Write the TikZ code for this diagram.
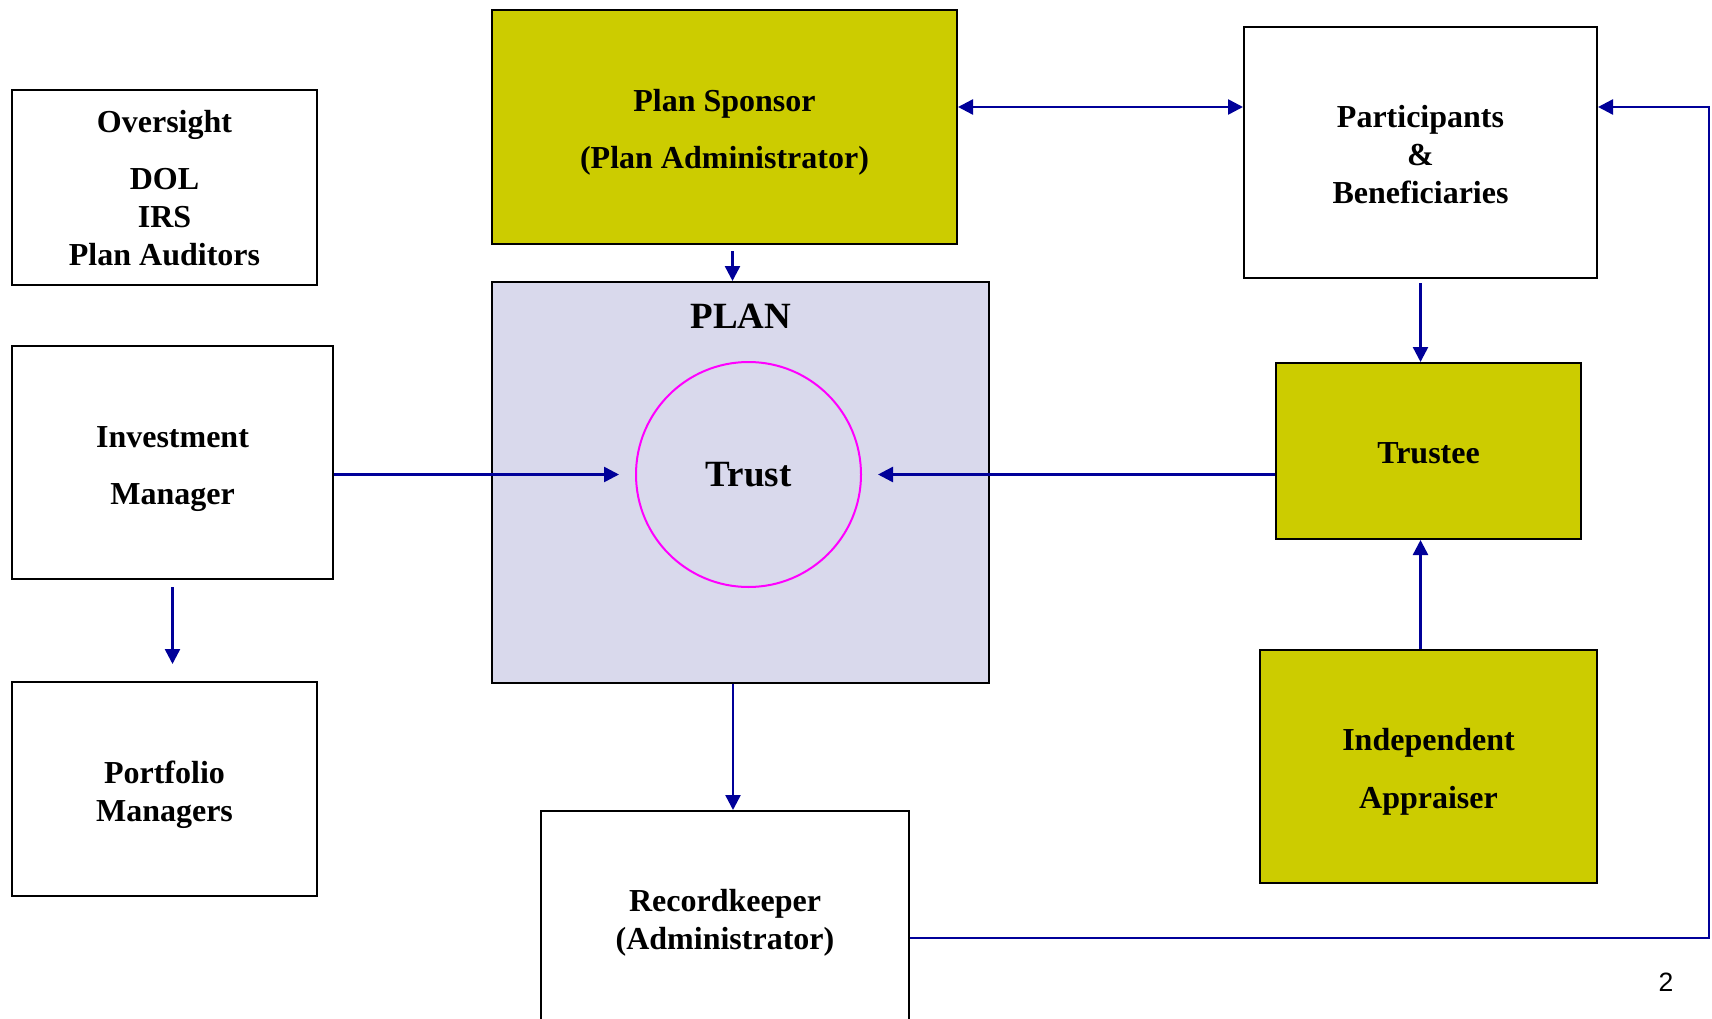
\documentclass[tikz,border=0pt]{standalone}
\usepackage{fontspec}
\setmainfont{Liberation Serif}
\newfontfamily\sansf{Liberation Sans}
\usetikzlibrary{arrows.meta,calc}
\definecolor{myolive}{HTML}{CCCC00}
\definecolor{mylav}{HTML}{D9D9EC}
\definecolor{myblue}{HTML}{000099}
\definecolor{mymag}{HTML}{FF00FF}
\newcommand{\mystrut}[1]{\rule{0pt}{#1}}
\begin{document}
\begin{tikzpicture}[x=1pt,y=-1pt,
  box/.style={draw=black, line width=2pt, rectangle, inner sep=0pt, align=center,
    font=\fontsize{32}{38}\selectfont\bfseries},
  olivebox/.style={box, fill=myolive},
  arr/.style={draw=myblue, line width=2.5pt, -{Triangle[length=15pt,width=15pt]}},
  dblarr/.style={draw=myblue, line width=2.5pt, {Triangle[length=15pt,width=15pt]}-{Triangle[length=15pt,width=15pt]}},
  bigfont/.style={font=\fontsize{37}{44}\selectfont\bfseries}]
\useasboundingbox (0,0) rectangle (1712,1019);

% nodes
\node[box, minimum width=305pt, minimum height=195pt] (over) at (164.5,187.5)
  {\mystrut{24pt}Oversight\\[19pt]DOL\\IRS\\Plan Auditors};
\node[olivebox, minimum width=465pt, minimum height=234pt] (sponsor) at (724.5,127)
  {\mystrut{32pt}Plan Sponsor\\[19pt](Plan Administrator)};
\node[box, minimum width=353pt, minimum height=251pt] (part) at (1420.5,152.5)
  {\mystrut{26.5pt}Participants\\\&\\Beneficiaries};
\node[box, fill=mylav, minimum width=497pt, minimum height=401pt] (plan) at (740.5,482.5) {};
\node[bigfont, anchor=base, inner sep=0pt] (planlbl) at (741,328) {PLAN};
\node[circle, draw=mymag, line width=2pt, minimum size=225pt, inner sep=0pt, bigfont] (trust) at (748.5,474.5) {Trust};
\node[box, minimum width=321pt, minimum height=233pt] (im) at (172.5,462.5)
  {\mystrut{34pt}Investment\\[19pt]Manager};
\node[box, minimum width=305pt, minimum height=214pt] (port) at (164.5,789)
  {\mystrut{33.5pt}Portfolio\\Managers};
\node[box, minimum width=368pt, minimum height=212pt] (rec) at (725,917)
  {\mystrut{33pt}Recordkeeper\\(Administrator)};
\node[olivebox, minimum width=305pt, minimum height=176pt] (trustee) at (1428.5,451) {\mystrut{26pt}Trustee};
\node[olivebox, minimum width=337pt, minimum height=233pt] (appr) at (1428.5,766.5)
  {\mystrut{33pt}Independent\\[20pt]Appraiser};
\node[font=\sansf\fontsize{26.5}{30}\selectfont, anchor=base, inner sep=0pt] (pagenum) at (1666,991) {2};

% connectors
\draw[arr] ([xshift=8pt,yshift=-6pt]sponsor.south) -- ([xshift=-8pt]plan.north);
\draw[dblarr] ([yshift=20pt]sponsor.east) -- ([yshift=20pt]sponsor.east -| part.west);
\draw[arr] ([yshift=-4pt]part.south) -- (part.south |- trustee.north);
\draw[arr] ([xshift=-8pt]appr.north) -- ([xshift=-8pt]trustee.south);
\draw[arr, shorten >=16pt] (im.east |- trust.west) -- (trust.west);
\draw[arr, shorten >=16pt] (trustee.west |- trust.east) -- (trust.east);
\draw[arr, shorten >=17pt] ([yshift=-7pt]im.south) -- (im.south |- port.north);
\draw[arr] ([xshift=-7.5pt]plan.south) -- ([xshift=-7.5pt]plan.south |- rec.north);
\coordinate (rb) at (1709,938);
\coordinate (rt) at (1709,107);
\draw[arr] (rec.east |- rb) -- (rb) -- (rt) -- (part.east |- rt);
\end{tikzpicture}
\end{document}
